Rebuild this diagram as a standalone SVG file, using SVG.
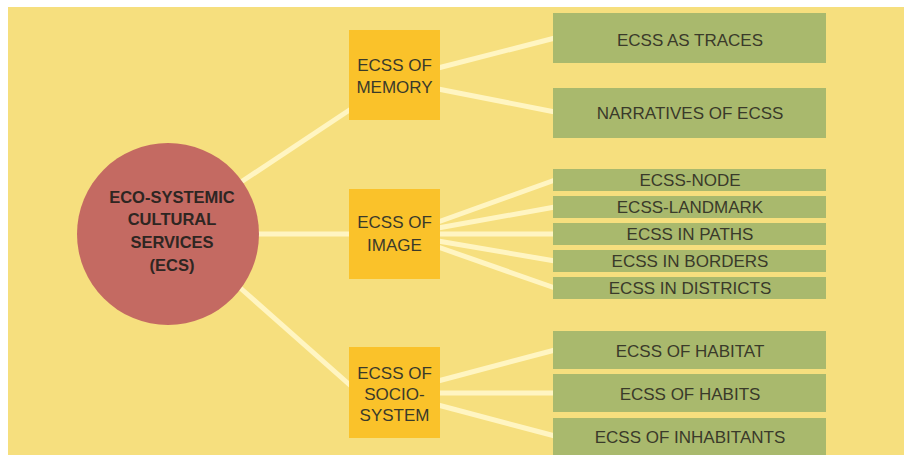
<svg xmlns="http://www.w3.org/2000/svg" width="904" height="459" viewBox="0 0 904 459">
<style>
.bg{fill:#F6DF7E}
.ln{stroke:#FFF5C2;stroke-width:5;fill:none;stroke-linecap:butt}
.org{fill:#FAC22A}
.grn{fill:#A9B96D}
.t{font-family:"Liberation Sans",Arial,sans-serif;font-size:17px;fill:#3A3A2A;text-anchor:middle}
.c{font-family:"Liberation Sans",Arial,sans-serif;font-size:16.5px;font-weight:bold;fill:#2E2622;text-anchor:middle}
</style>
<rect x="0" y="0" width="904" height="459" fill="#FFFFFF"/>
<rect class="bg" x="8" y="7" width="896" height="448"/>
<g id="connectors">
<line class="ln" x1="238" y1="184" x2="351" y2="109"/>
<line class="ln" x1="255" y1="234" x2="351" y2="234"/>
<line class="ln" x1="238" y1="286" x2="351" y2="386"/>
<line class="ln" x1="438" y1="68" x2="555" y2="38"/>
<line class="ln" x1="438" y1="89" x2="555" y2="112"/>
<line class="ln" x1="438" y1="222" x2="555" y2="180"/>
<line class="ln" x1="438" y1="228" x2="555" y2="207"/>
<line class="ln" x1="438" y1="234" x2="555" y2="234"/>
<line class="ln" x1="438" y1="241" x2="555" y2="261"/>
<line class="ln" x1="438" y1="247" x2="555" y2="288"/>
<line class="ln" x1="438" y1="381" x2="555" y2="350"/>
<line class="ln" x1="438" y1="393" x2="555" y2="393"/>
<line class="ln" x1="438" y1="405" x2="555" y2="436"/>
</g>
<g id="ecs">
<circle cx="168" cy="234" r="91" fill="#C46A62"/>
<text class="c" x="172" y="203">ECO-SYSTEMIC</text>
<text class="c" x="172" y="225">CULTURAL</text>
<text class="c" x="172" y="248">SERVICES</text>
<text class="c" x="172" y="271">(ECS)</text>
</g>
<g id="memory">
<rect class="org" x="349" y="30" width="91" height="90"/>
<text class="t" x="394.5" y="71">ECSS OF</text>
<text class="t" x="394.5" y="93">MEMORY</text>
</g>
<g id="image">
<rect class="org" x="349" y="189" width="91" height="90"/>
<text class="t" x="394.5" y="228">ECSS OF</text>
<text class="t" x="394.5" y="251">IMAGE</text>
</g>
<g id="socio">
<rect class="org" x="349" y="347" width="91" height="91"/>
<text class="t" x="394.5" y="379">ECSS OF</text>
<text class="t" x="394.5" y="400">SOCIO-</text>
<text class="t" x="394.5" y="421">SYSTEM</text>
</g>
<g id="traces"><rect class="grn" x="553" y="13" width="273" height="50"/><text class="t" x="690" y="46">ECSS AS TRACES</text></g>
<g id="narratives"><rect class="grn" x="553" y="88" width="273" height="50"/><text class="t" x="690" y="119">NARRATIVES OF ECSS</text></g>
<g id="node"><rect class="grn" x="553" y="169" width="273" height="22"/><text class="t" x="690" y="186">ECSS-NODE</text></g>
<g id="landmark"><rect class="grn" x="553" y="196" width="273" height="22"/><text class="t" x="690" y="213">ECSS-LANDMARK</text></g>
<g id="paths"><rect class="grn" x="553" y="223" width="273" height="22"/><text class="t" x="690" y="240">ECSS IN PATHS</text></g>
<g id="borders"><rect class="grn" x="553" y="250" width="273" height="22"/><text class="t" x="690" y="267">ECSS IN BORDERS</text></g>
<g id="districts"><rect class="grn" x="553" y="277" width="273" height="22"/><text class="t" x="690" y="294">ECSS IN DISTRICTS</text></g>
<g id="habitat"><rect class="grn" x="553" y="331" width="273" height="38"/><text class="t" x="690" y="357">ECSS OF HABITAT</text></g>
<g id="habits"><rect class="grn" x="553" y="374" width="273" height="38"/><text class="t" x="690" y="400">ECSS OF HABITS</text></g>
<g id="inhabitants"><rect class="grn" x="553" y="418" width="273" height="37"/><text class="t" x="690" y="443">ECSS OF INHABITANTS</text></g>
</svg>
